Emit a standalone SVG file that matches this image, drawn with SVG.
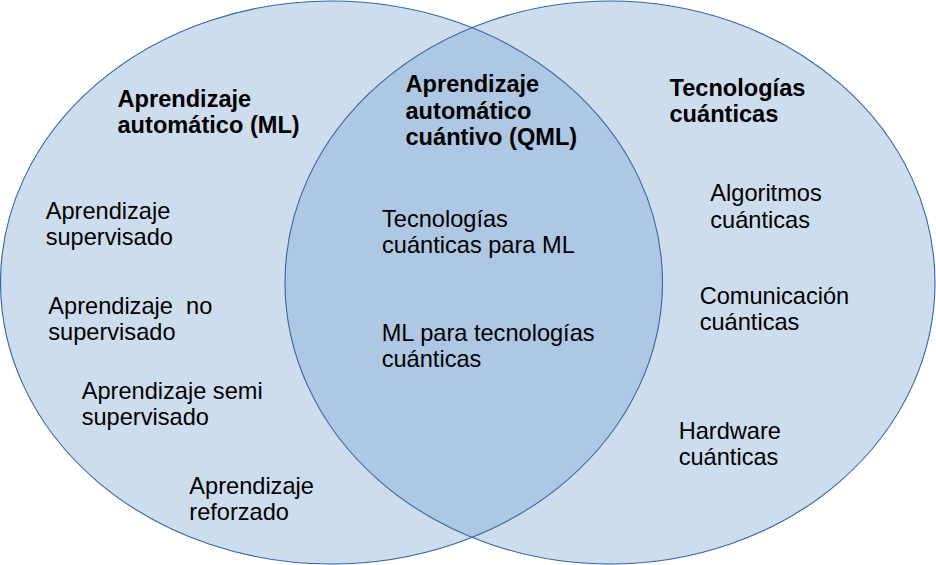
<svg xmlns="http://www.w3.org/2000/svg" width="936" height="565" viewBox="0 0 936 565">
<style>
.set{fill:#729fcf;fill-opacity:0.35;stroke:none}
.edge{fill:none;stroke:#3465a4;stroke-width:1.1}
text{font-family:"Liberation Sans",Arial,sans-serif;font-size:23.6px;fill:#000}
.h{font-weight:bold}
</style>
<rect width="936" height="565" fill="#fff"/>
<g id="set-ml">
<ellipse class="set" cx="331.5" cy="282.5" rx="331" ry="281.5"/>
</g>
<g id="set-qt">
<ellipse class="set" cx="610" cy="282.5" rx="325" ry="281.5"/>
</g>
<g id="outlines">
<ellipse class="edge" cx="331.5" cy="282.5" rx="331" ry="281.5"/>
<ellipse class="edge" cx="610" cy="282.5" rx="325" ry="281.5"/>
</g>
<g id="title-ml"><text class="h" x="117.5" y="106.7">Aprendizaje</text><text class="h" x="117.5" y="133.3">automático (ML)</text></g>
<g id="title-qml"><text class="h" x="405.5" y="92">Aprendizaje</text><text class="h" x="405.5" y="118.5">automático</text><text class="h" x="405.5" y="145">cuántivo (QML)</text></g>
<g id="title-qt"><text class="h" x="669.5" y="95.7">Tecnologías</text><text class="h" x="669.5" y="122.3">cuánticas</text></g>
<g id="ml-supervisado"><text x="45.7" y="218.5">Aprendizaje</text><text x="45.7" y="245">supervisado</text></g>
<g id="ml-no-supervisado"><text x="48.3" y="313.7" xml:space="preserve">Aprendizaje  no</text><text x="48.3" y="340.3">supervisado</text></g>
<g id="ml-semi"><text x="81.7" y="398.7">Aprendizaje semi</text><text x="81.7" y="424.7">supervisado</text></g>
<g id="ml-reforzado"><text x="189.3" y="494.3">Aprendizaje</text><text x="189.3" y="520.3">reforzado</text></g>
<g id="qml-tq-ml"><text x="382" y="226.7">Tecnologías</text><text x="382" y="253">cuánticas para ML</text></g>
<g id="qml-ml-tq"><text x="381.7" y="341.3">ML para tecnologías</text><text x="381.7" y="367.3">cuánticas</text></g>
<g id="qt-algoritmos"><text x="710.3" y="201">Algoritmos</text><text x="710.3" y="227.7">cuánticas</text></g>
<g id="qt-comunicacion"><text x="699.7" y="303.7">Comunicación</text><text x="699.7" y="330.3">cuánticas</text></g>
<g id="qt-hardware"><text x="678.7" y="438.7">Hardware</text><text x="678.7" y="464.7">cuánticas</text></g>
</svg>
